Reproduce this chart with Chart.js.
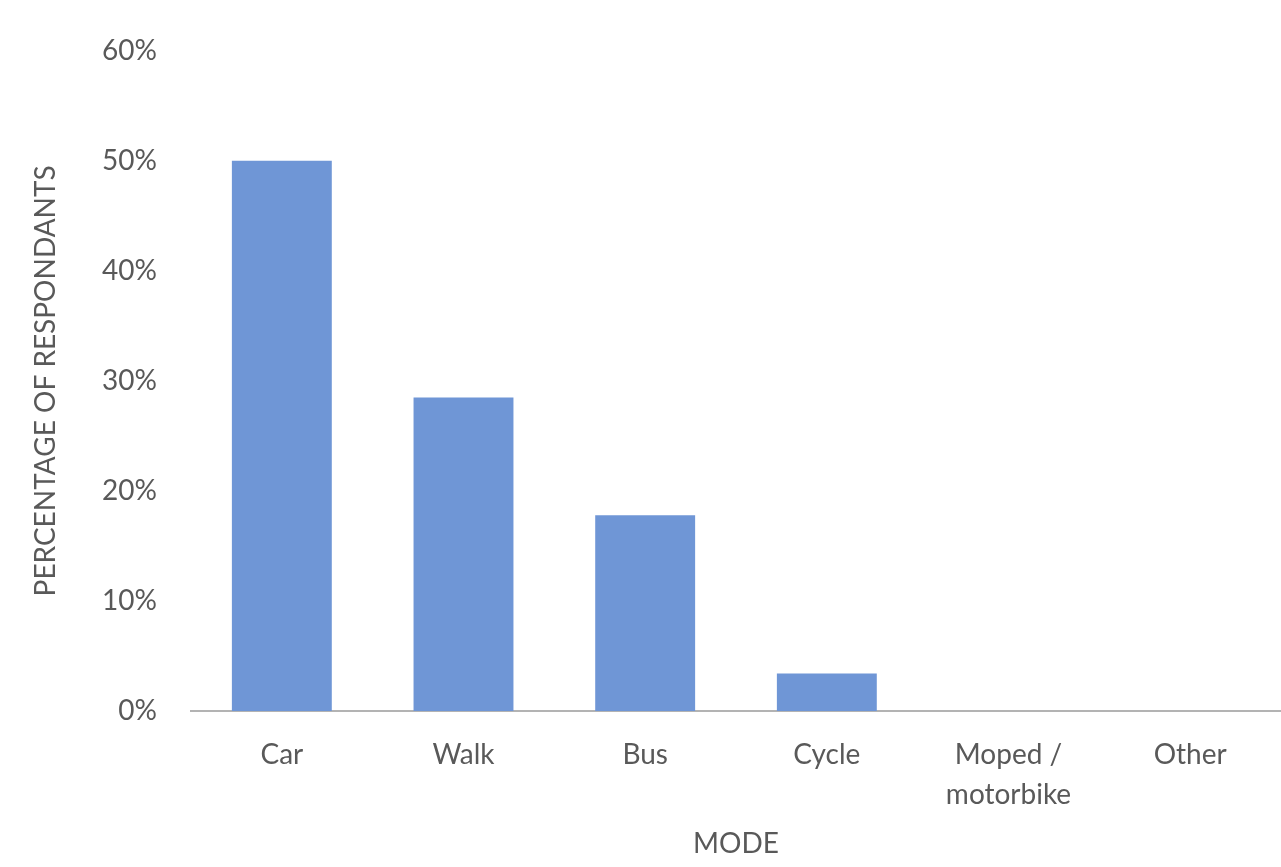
<!DOCTYPE html>
<html>
<head>
<meta charset="utf-8">
<script src="https://cdn.jsdelivr.net/npm/chart.js@4/dist/chart.umd.min.js"></script>
<style>
  html, body { margin: 0; padding: 0; background: #ffffff; }
  #wrap { width: 1281px; height: 867px; }
</style>
</head>
<body>
<div id="wrap"><canvas id="modeChart" width="1281" height="867"></canvas></div>
<script>
  // Travel mode survey
  const modes = ["Car", "Walk", "Bus", "Cycle", ["Moped /", "motorbike"], "Other"];
  const shares = [50, 28.5, 17.8, 3.4, 0, 0];
  const yTicks = [0, 10, 20, 30, 40, 50, 60];

  const textColor = "#595959";
  const fontFamily = "Lato, 'Open Sans', sans-serif";

  const ctx = document.getElementById("modeChart").getContext("2d");
  const modeChart = new Chart(ctx, {
    type: "bar",
    data: {
      labels: modes,
      datasets: [
        {
          label: "Respondants",
          data: shares,
          backgroundColor: "#6f96d6",
          borderWidth: 0,
          barPercentage: 0.55,
          categoryPercentage: 1,
        },
      ],
    },
    options: {
      responsive: false,
      animation: false,
      layout: { padding: { left: 0, right: 0, top: 50, bottom: 0 } },
      plugins: {
        legend: { display: false },
        tooltip: { enabled: false },
      },
      scales: {
        x: {
          grid: { display: false, drawTicks: false },
          border: { display: true, color: "#b3b3b3", width: 2 },
          ticks: {
            color: textColor,
            padding: 24,
            maxRotation: 0,
            autoSkip: false,
            font: { family: fontFamily, size: 28, lineHeight: 1.43 },
          },
          title: {
            display: true,
            text: "MODE",
            color: textColor,
            padding: { top: 0, bottom: 6 },
            font: { family: fontFamily, size: 28 },
          },
          afterFit: (scale) => { scale.height = 156; },
        },
        y: {
          min: yTicks[0],
          max: yTicks[yTicks.length - 1],
          grid: { display: false, drawTicks: false },
          border: { display: false },
          afterBuildTicks: (scale) => {
            scale.ticks = yTicks.map((v) => ({ value: v }));
          },
          ticks: {
            color: textColor,
            padding: 34,
            font: { family: fontFamily, size: 28 },
            callback: (v) => v + "%",
          },
          title: {
            display: true,
            text: "PERCENTAGE OF RESPONDANTS",
            color: textColor,
            padding: { top: 29, bottom: 0 },
            font: { family: fontFamily, size: 28 },
          },
          afterFit: (scale) => { scale.width = 191; },
        },
      },
    },
  });
</script>
</body>
</html>
